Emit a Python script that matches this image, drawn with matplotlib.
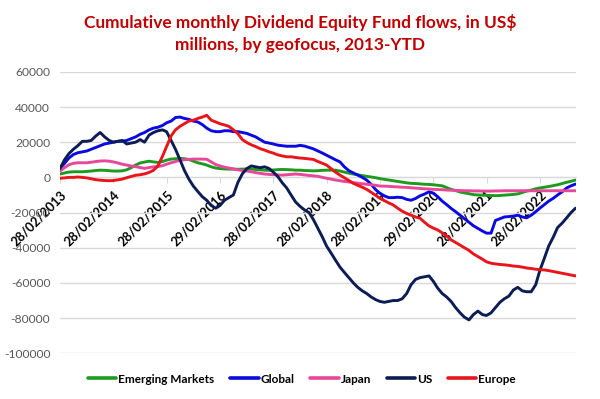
import numpy as np
import pandas as pd
import matplotlib
matplotlib.use("Agg")
import matplotlib.pyplot as plt
import matplotlib.dates as mdates

# Monthly values, in US$ thousands of millions (multiplied by 1000 below)
dates = pd.date_range("2013-02-28", periods=117, freq="ME")

emerging = [1.9, 2.5, 3, 3.2, 3.2, 3.2, 3.4, 3.6, 3.9, 4.1, 4, 3.8, 3.6, 3.6, 3.7, 4.3, 5.5, 7, 8.2, 8.7,
            9.2, 8.8, 8.5, 9, 9.8, 10.4, 10.6, 10.8, 10.6, 10.2, 9.2, 8.3, 7.7, 7, 6, 5.3, 5, 4.8, 4.7, 4.7,
            4.6, 4.7, 4.8, 4.7, 4.5, 4.3, 4.1, 4, 4.2, 4.4, 4.5, 4.4, 4.3, 4.1, 4.1, 3.9, 3.8, 3.7, 3.8, 4,
            4.1, 4.1, 4.1, 3.6, 3, 2.4, 1.9, 1.5, 1, 0.6, 0.2, -0.2, -0.7, -1.1, -1.5, -1.9, -2.3, -2.7, -3.1, -3.4,
            -3.5, -3.7, -3.9, -4, -4.2, -4.5, -4.8, -5.8, -6.8, -7.5, -8.3, -8.8, -9.3, -9.8, -10, -10.1, -10.2, -10.3, -10.4, -10.3,
            -10.1, -9.9, -9.7, -9.4, -8.6, -7.8, -7.2, -6.5, -6, -5.6, -5.2, -4.7, -4.2, -3.5, -2.8, -2.2, -1.5]

global_ = [5, 8, 11, 13, 14, 14.5, 15, 16, 17, 18, 19, 19.5, 20, 20.5, 20.5, 21, 22, 23, 24.5, 25.5,
           27, 28, 28.5, 29.5, 31, 32, 34, 34.3, 33.5, 33, 32, 31.5, 30, 28, 26.5, 26, 26, 26.5, 26.5, 26,
           26, 25.5, 25, 24, 23, 21.5, 20, 19.5, 19, 18.3, 18, 17.7, 17.7, 17.7, 18.2, 17.8, 17, 16.2, 15, 13.8,
           12.6, 11.3, 10, 8.8, 6, 3.8, 2.5, 1.3, 0, -1.5, -4, -7, -9, -10.5, -11.5, -11.5, -11.3, -11.5, -12.5, -13,
           -12, -10.5, -9.5, -8.2, -9, -11, -13.5, -15.5, -17.6, -19.5, -21.5, -23.5, -25.5, -27.5, -29, -30.5, -31.7, -31.7, -24.5, -23.5,
           -22.5, -22.3, -22, -21.5, -22.5, -23, -21.5, -19.5, -17.5, -15.5, -13.5, -11.9, -10, -8.2, -6, -4.8, -3.8]

japan = [3.6, 5.5, 7.2, 8, 8.3, 8.3, 8.3, 8.6, 9, 9.3, 9.4, 9.2, 8.8, 8.2, 7.5, 7, 6.5, 6.1, 5.6, 5.1,
         5.6, 6, 6.2, 6.6, 7.5, 8.3, 9, 9.8, 10, 10.2, 10.4, 10.4, 10.4, 10.3, 8.8, 7.3, 6.5, 5.8, 5.3, 4.8,
         4.3, 3.9, 3.6, 3.2, 2.7, 2.3, 1.9, 1.7, 1.5, 1.4, 1.3, 1.5, 1.7, 1.9, 1.7, 1.4, 1.1, 0.9, 0.6, 0,
         -0.5, -1, -1.5, -1.9, -2.3, -2.6, -3, -3.3, -3.6, -3.9, -4.2, -4.5, -4.9, -5, -5.1, -5.3, -5.4, -5.6, -5.7, -5.9,
         -6.1, -6.3, -6.5, -6.6, -6.8, -6.9, -7, -7.2, -7.3, -7.4, -7.5, -7.6, -7.6, -7.7, -7.7, -7.8, -7.8, -7.8, -7.7, -7.7,
         -7.6, -7.6, -7.6, -7.6, -7.6, -7.6, -7.6, -7.6, -7.6, -7.6, -7.6, -7.6, -7.6, -7.6, -7.6, -7.6, -7.6]

us = [5, 10, 13.5, 16, 18, 20.5, 20.5, 21, 23.5, 25.5, 23, 21, 20, 20.5, 21, 19, 19.5, 20, 21.5, 20,
      24, 25.5, 26.5, 27, 26, 21, 16, 10, 4, -1, -5, -8, -11, -13, -16, -17.5, -16, -13, -11.5, -10,
      -3, 2, 5, 6.5, 6, 5.5, 6, 5, 3, 0.5, -3, -6, -10, -14, -16.5, -18.5, -20, -24, -29, -34,
      -39, -43, -47, -51, -54, -57, -60, -62.5, -64.5, -66, -68, -69.5, -70.5, -71, -70.5, -70, -70, -69, -66, -61,
      -58, -57, -56.5, -56, -59, -63, -66, -68, -70.5, -74, -77, -79.5, -81, -78, -76, -78, -78.5, -77, -74, -71,
      -69, -67.5, -64, -62.5, -64.5, -65, -65, -61, -53, -46, -39, -34, -28.5, -26, -23, -20, -17.5]

europe = [-0.5, -0.3, 0, 0, 0.2, 0, -0.3, -0.8, -1.3, -1.6, -1.8, -1.9, -1.8, -1.4, -1, -0.2, 0.5, 1.2, 1.5, 2,
          2.8, 4, 6.5, 12, 17.5, 23.5, 27, 29, 30.5, 32, 32.5, 33.5, 34.3, 35.3, 32.5, 31.5, 30.5, 29.8, 29, 27,
          24.9, 21.5, 19.8, 18.5, 17.5, 16.3, 15.5, 14.5, 13.8, 12.8, 12.2, 11.7, 11.7, 11.3, 11, 10.8, 10.5, 10.2, 9, 8,
          7, 5, 3, 1.3, -0.2, -1.8, -3.4, -4.5, -5.6, -6.8, -8.5, -10.2, -11.9, -13.2, -14.5, -15.7, -17.5, -19.2, -20.5, -21.5,
          -22.5, -23.2, -25.5, -27.6, -28.8, -29.9, -31.5, -33.3, -35.5, -37, -38.5, -40, -41.5, -43.5, -45, -46.5, -48, -48.8, -49.2, -49.5,
          -49.7, -50, -50.4, -50.6, -51, -51.5, -51.8, -52.2, -52.5, -52.6, -53, -53.5, -54, -54.5, -55, -55.5, -56]

series_names = ["Emerging Markets", "Global", "Japan", "US", "Europe"]
series_vals = [emerging, global_, japan, us, europe]
colors = ["#1E9A1E", "#0A0AE0", "#E8479A", "#0C1D55", "#E8151B"]

yticks = [60000, 40000, 20000, 0, -20000, -40000, -60000, -80000, -100000]
tick_dates = pd.to_datetime(["2013-02-28", "2014-02-28", "2015-02-28", "2016-02-29", "2017-02-28",
                             "2018-02-28", "2019-02-28", "2020-02-29", "2021-02-28", "2022-02-28"])

plt.rcParams["font.family"] = ["Lato", "DejaVu Sans"]

fig = plt.figure(figsize=(6.0, 3.99), dpi=100)
ax = fig.add_axes([0.10, 0.1145, 0.86, 0.7055])

for name, vals, c in zip(series_names, series_vals, colors):
    ax.plot(dates, np.array(vals) * 1000, color=c, lw=2.1, label=name, solid_capstyle="round")

ax.set_ylim(-100000, 60000)
ax.set_xlim(dates[0], dates[-1] + pd.Timedelta(days=3))
ax.set_yticks(yticks)
ax.set_yticklabels([str(v) for v in yticks], color="#595959", fontsize=8.7)
ax.tick_params(axis="y", length=0, pad=7)
ax.grid(axis="y", color="#D9D9D9", lw=1)
ax.set_axisbelow(True)

for s in ["top", "right", "left"]:
    ax.spines[s].set_visible(False)
ax.spines["bottom"].set_position(("data", 0))
ax.spines["bottom"].set_color("#D9D9D9")
ax.spines["bottom"].set_zorder(0.5)

ax.set_xticks(tick_dates)
ax.xaxis.set_major_formatter(mdates.DateFormatter("%d/%m/%Y"))
ax.tick_params(axis="x", length=4, color="#D9D9D9", pad=4)
for lab in ax.get_xticklabels():
    lab.set_rotation(45)
    lab.set_ha("right")
    lab.set_rotation_mode("anchor")
    lab.set_fontweight("bold")
    lab.set_fontsize(9.3)
    lab.set_color("black")

fig.text(0.5, 0.965, "Cumulative monthly Dividend Equity Fund flows, in US$\nmillions, by geofocus, 2013-YTD",
         ha="center", va="top", color="#C00000", fontsize=12.4, fontweight="bold", linespacing=1.5)

leg = fig.legend(loc="center", bbox_to_anchor=(0.503, 0.05), ncol=5, frameon=False,
                 prop={"weight": "bold", "size": 8.5}, handlelength=2.4, handletextpad=0.15,
                 columnspacing=1.35)
for l in leg.get_lines():
    l.set_linewidth(2.6)

fig.savefig("out.png", dpi=100)
